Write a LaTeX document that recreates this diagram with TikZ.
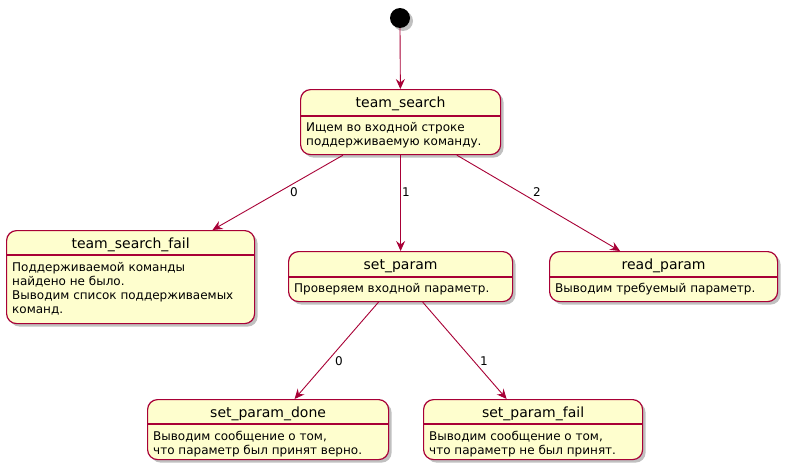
\documentclass[tikz,border=0pt]{standalone}
\usepackage{fontspec}
\setmainfont{DejaVu Sans}
\usetikzlibrary{shadows,arrows.meta}
\definecolor{statefill}{HTML}{FEFECE}
\definecolor{stateline}{HTML}{A80036}
\begin{document}
\begin{tikzpicture}[x=1pt,y=-1pt,
    statebox/.style={draw=stateline,fill=statefill,line width=1.2pt,rounded corners=10pt,anchor=north west,inner sep=0pt,
        drop shadow={shadow xshift=3pt,shadow yshift=-3pt,opacity=0.35,fill=black!70}},
    statename/.style={anchor=base,inner sep=0pt,font=\fontsize{14}{16}\selectfont},
    statetext/.style={anchor=north west,inner sep=0pt,align=left,font=\fontsize{12}{14}\selectfont},
    sep/.style={draw=stateline,line width=1.2pt},
    trans/.style={draw=stateline,line width=0.9pt,-{Stealth[length=10pt,width=9pt,inset=3.5pt]}},
    lbl/.style={inner sep=0pt,font=\fontsize{12}{14}\selectfont}]
    \fill[white] (0,0) rectangle (788,474);
    \useasboundingbox (0,0) rectangle (788,474);
    \fill[black,drop shadow={shadow xshift=3pt,shadow yshift=-3pt,opacity=0.35,fill=black!70}] (400,18) circle[radius=10];
    \coordinate (start) at (400,28);
    \node[statebox,minimum width=200pt,minimum height=65pt] (ts) at (300,89) {};
    \node[statebox,minimum width=248pt,minimum height=93pt] (tsf) at (6,230) {};
    \node[statebox,minimum width=224pt,minimum height=50pt] (sp) at (288,251) {};
    \node[statebox,minimum width=228pt,minimum height=50pt] (rp) at (549,251) {};
    \node[statebox,minimum width=241pt,minimum height=60pt] (spd) at (147,399) {};
    \node[statebox,minimum width=219pt,minimum height=60pt] (spf) at (423,399) {};
    \draw[sep] ([yshift=-27pt]ts.north west) -- ([yshift=-27pt]ts.north east);
    \draw[sep] ([yshift=-25pt]tsf.north west) -- ([yshift=-25pt]tsf.north east);
    \draw[sep] ([yshift=-26pt]sp.north west) -- ([yshift=-26pt]sp.north east);
    \draw[sep] ([yshift=-26pt]rp.north west) -- ([yshift=-26pt]rp.north east);
    \draw[sep] ([yshift=-25pt]spd.north west) -- ([yshift=-25pt]spd.north east);
    \draw[sep] ([yshift=-25pt]spf.north west) -- ([yshift=-25pt]spf.north east);
    \node[statename] (tsName) at ([yshift=-18pt]ts.north) {team\_search};
    \node[statename] (tsfName) at ([yshift=-18pt]tsf.north) {team\_search\_fail};
    \node[statename] (spName) at ([yshift=-18pt]sp.north) {set\_param};
    \node[statename] (rpName) at ([yshift=-18pt]rp.north) {read\_param};
    \node[statename] (spdName) at ([yshift=-18pt]spd.north) {set\_param\_done};
    \node[statename] (spfName) at ([yshift=-18pt]spf.north) {set\_param\_fail};
    \node[statetext] (tsText) at (306,122) {Ищем во входной строке\\поддерживаемую команду.};
    \node[statetext] (tsfText) at (12,262) {Поддерживаемой команды\\найдено не было.\\Выводим список поддерживаемых\\команд.};
    \node[statetext] (spText) at (294,283) {Проверяем входной параметр.};
    \node[statetext] (rpText) at (555,283) {Выводим требуемый параметр.};
    \node[statetext] (spdText) at (153,431) {Выводим сообщение о том,\\что параметр был принят верно.};
    \node[statetext] (spfText) at (429,431) {Выводим сообщение о том,\\что параметр не был принят.};
    \draw[trans] (start) -- (ts);
    \draw[trans] (ts) -- (tsf);
    \draw[trans] (ts) -- (sp);
    \draw[trans] (ts) -- (rp);
    \draw[trans] (sp) -- (spd);
    \draw[trans] (sp) -- (spf);
    \node[lbl] (l0) at (294,192) {0};
    \node[lbl] (l1) at (406,192) {1};
    \node[lbl] (l2) at (537,192) {2};
    \node[lbl] (l3) at (339,361) {0};
    \node[lbl] (l4) at (484,361) {1};
\end{tikzpicture}
\end{document}
